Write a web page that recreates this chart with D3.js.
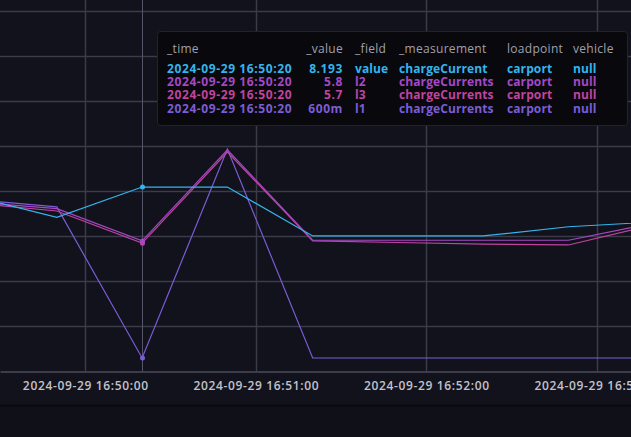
<!DOCTYPE html>
<html>
<head>
<meta charset="utf-8" />
<title>chargeCurrent</title>
<script src="https://d3js.org/d3.v7.min.js"></script>
<style>
  body { margin: 0; background: #101018; overflow: hidden; }
  svg { display: block; font-family: "Open Sans", sans-serif; }
</style>
</head>
<body>
<div id="chart"></div>
<script>
// sample times (every 30 s)
const times = ["2024-09-29 16:49:20", "2024-09-29 16:49:50", "2024-09-29 16:50:20",
  "2024-09-29 16:50:50", "2024-09-29 16:51:20", "2024-09-29 16:51:50",
  "2024-09-29 16:52:20", "2024-09-29 16:52:50", "2024-09-29 16:53:20"];

const chargeCurrent = [7.79, 6.85, 8.193, 8.193, 6.02, 6.02, 6.02, 6.43, 6.64];
const l2 = [7.54, 7.23, 5.8, 9.84, 5.83, 5.83, 5.83, 5.83, 6.60];
const l3 = [7.48, 7.13, 5.7, 9.75, 5.80, 5.73, 5.66, 5.62, 6.52];
const l1 = [7.64, 7.31, 0.6, 9.88, 0.6, 0.6, 0.6, 0.6, 0.6];

const yTicks = [0, 2, 4, 6, 8, 10, 12, 14, 16];
const hoverTime = "2024-09-29 16:50:20";

// tooltip table
const tipHeader = ["_time", "_value", "_field", "_measurement", "loadpoint", "vehicle"];
const tipValues = ["8.193", "5.8", "5.7", "600m"];
const tipFields = ["value", "l2", "l3", "l1"];
const tipMeasurements = ["chargeCurrent", "chargeCurrents", "chargeCurrents", "chargeCurrents"];
const tipLoadpoints = ["carport", "carport", "carport", "carport"];
const tipVehicles = ["null", "null", "null", "null"];
const tipColors = ["#34b4ec", "#a448c6", "#c0449e", "#7b5cd6"];

const width = 631, height = 437;
const parse = d3.timeParse("%Y-%m-%d %H:%M:%S");
const fmt = d3.timeFormat("%Y-%m-%d %H:%M:%S");

const series = [
  { name: "l1", values: l1, color: "#7b5cd6" },
  { name: "l3", values: l3, color: "#c0449e" },
  { name: "l2", values: l2, color: "#a448c6" },
  { name: "value", values: chargeCurrent, color: "#34b4ec" }
];

const svg = d3.select("#chart").append("svg")
  .attr("width", width)
  .attr("height", height);

svg.append("rect").attr("width", width).attr("height", 405).attr("fill", "#12121c");
svg.append("line").attr("x1", 0).attr("x2", width).attr("y1", 405.5).attr("y2", 405.5)
  .attr("stroke", "#08080d").attr("stroke-width", 2);

const x = d3.scaleTime()
  .domain([parse("2024-09-29 16:49:30"), parse("2024-09-29 16:53:12")])
  .range([0, width]);
const y = d3.scaleLinear().domain([0, 16.5]).range([371.5, 0]);

// grid
svg.append("g").selectAll("line").data(yTicks.filter(d => d > 0)).join("line")
  .attr("x1", 0).attr("x2", width)
  .attr("y1", d => Math.round(y(d)) + 0.5).attr("y2", d => Math.round(y(d)) + 0.5)
  .attr("stroke", "#3b3b4a").attr("stroke-width", 1.5);

const xTicks = x.ticks(d3.timeMinute.every(1));
svg.append("g").selectAll("line").data(xTicks).join("line")
  .attr("x1", d => Math.round(x(d)) + 0.5).attr("x2", d => Math.round(x(d)) + 0.5)
  .attr("y1", 0).attr("y2", y(0))
  .attr("stroke", "#3b3b4a").attr("stroke-width", 1.5);

// x axis
const xAxis = svg.append("g")
  .attr("transform", `translate(0,${y(0)})`)
  .call(d3.axisBottom(x).ticks(d3.timeMinute.every(1)).tickFormat(fmt).tickSize(0).tickPadding(10));
xAxis.select(".domain").attr("stroke", "#3c3c4a").attr("stroke-width", 2);
xAxis.selectAll("text")
  .attr("fill", "#c2c2cc")
  .attr("font-size", 12)
  .attr("font-weight", 600)
  .attr("letter-spacing", 0.65)
  .attr("font-family", "'Open Sans', sans-serif");

// hover line
const hx = Math.round(x(parse(hoverTime))) + 0.5;
svg.append("line").attr("x1", hx).attr("x2", hx).attr("y1", 0).attr("y2", y(0))
  .attr("stroke", "#55556a").attr("stroke-width", 1);

// lines
svg.append("clipPath").attr("id", "clip").append("rect")
  .attr("width", width).attr("height", y(0));

const line = d3.line()
  .x((d, i) => x(parse(times[i])))
  .y(d => y(d));

const plot = svg.append("g").attr("clip-path", "url(#clip)");
plot.selectAll("path").data(series).join("path")
  .attr("d", d => line(d.values))
  .attr("fill", "none")
  .attr("stroke", d => d.color)
  .attr("stroke-width", 1.2);

const hi = times.indexOf(hoverTime);
plot.selectAll("circle").data(series).join("circle")
  .attr("cx", hx)
  .attr("cy", d => y(d.values[hi]))
  .attr("r", 2.5)
  .attr("fill", d => d.color);

// tooltip
const tip = svg.append("g").attr("transform", "translate(157,31)");
tip.append("rect").attr("x", 0.5).attr("y", 0.5).attr("width", 470).attr("height", 94)
  .attr("rx", 3).attr("fill", "#08080d").attr("stroke", "#22222c");

const cols = [
  { x: 10, anchor: "start", ls: 0.6, vals: tipValues.map(() => hoverTime) },
  { x: 186, anchor: "end", ls: 0.6, vals: tipValues },
  { x: 198, anchor: "start", ls: 0.1, vals: tipFields },
  { x: 242, anchor: "start", ls: 0.1, vals: tipMeasurements },
  { x: 350, anchor: "start", ls: 0.1, vals: tipLoadpoints },
  { x: 416, anchor: "start", ls: 0.1, vals: tipVehicles }
];

cols.forEach((c, ci) => {
  tip.append("text")
    .attr("x", c.x).attr("y", 22)
    .attr("text-anchor", c.anchor)
    .attr("fill", "#a0a0ab")
    .attr("font-size", 12)
    .attr("letter-spacing", 0.3)
    .text(tipHeader[ci]);
  tip.selectAll(null).data(c.vals).join("text")
    .attr("x", c.x)
    .attr("y", (d, i) => 41.5 + i * 13.4)
    .attr("text-anchor", c.anchor)
    .attr("fill", (d, i) => tipColors[i])
    .attr("font-size", 12)
    .attr("font-weight", 700)
    .attr("letter-spacing", c.ls)
    .text(d => d);
});
</script>
</body>
</html>
